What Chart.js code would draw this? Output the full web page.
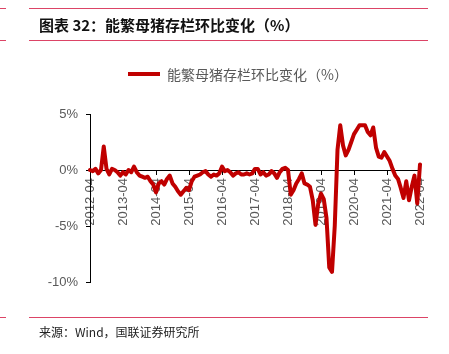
<!DOCTYPE html>
<html>
<head>
<meta charset="utf-8">
<script src="https://cdn.jsdelivr.net/npm/chart.js@4/dist/chart.umd.min.js"></script>
<style>
  html, body { margin:0; padding:0; background:#fff; }
  #wrap { position:relative; width:449px; height:354px; overflow:hidden; background:#fff; }
  canvas { position:absolute; left:0; top:0; }
  .rule { position:absolute; height:1px; background:#DC4466; }
  #title { position:absolute; left:39px; top:14px; font-family:"Noto Sans CJK SC", sans-serif; font-weight:bold; font-size:15px; line-height:22px; color:#111; white-space:nowrap; }
  #source { position:absolute; left:39px; top:324px; font-family:"Noto Sans CJK SC", sans-serif; font-size:12px; line-height:16px; color:#222; white-space:nowrap; }
  #legLine { position:absolute; left:128px; top:72px; width:32px; height:4px; background:#C00000; }
  #legText { position:absolute; left:167px; top:64px; font-family:"Noto Sans CJK SC", sans-serif; font-size:14px; line-height:20px; color:#595959; white-space:nowrap; }
</style>
</head>
<body>
<div id="wrap">
  <canvas id="c" width="449" height="354"></canvas>
  <div class="rule" style="left:0;width:6px;top:8px"></div>
  <div class="rule" style="left:29px;width:399px;top:8px"></div>
  <div class="rule" style="left:0;width:6px;top:40px"></div>
  <div class="rule" style="left:29px;width:399px;top:40px"></div>
  <div id="title">图表 32：能繁母猪存栏环比变化（%）</div>
  <div id="legLine"></div>
  <div id="legText"></div>
  <div class="rule" style="left:0;width:6px;top:317px"></div>
  <div class="rule" style="left:29px;width:399px;top:317px"></div>
  <div id="source">来源：Wind，国联证券研究所</div>
</div>
<script>
// ---- data ----
const seriesName = '能繁母猪存栏环比变化（%）';
const tickLabels = ['2012-04','2013-04','2014-04','2015-04','2016-04','2017-04','2018-04','2019-04','2020-04','2021-04','2022-04'];
const startYear = 2012, startMonth = 4, monthCount = 121;
const categories = [];
for (let k = 0; k < monthCount; k++) {
  const m = startMonth - 1 + k;
  const y = startYear + Math.floor(m / 12);
  const mm = (m % 12) + 1;
  categories.push(y + '-' + (mm < 10 ? '0' + mm : '' + mm));
}
const sowChange = [
  0.0, -0.1, 0.1, -0.3, 0.0, 2.1, 0.1, -0.4, 0.1, 0.0, -0.2, -0.5,
  -0.2, -0.4, 0.0, -0.2, 0.3, -0.2, -0.5, -0.6, -0.7, -0.6, -1.0, -1.3,
  -2.0, -1.2, -1.0, -1.3, -0.8, -0.5, -1.2, -1.5, -1.9, -2.2, -1.9, -1.6,
  -1.8, -1.0, -0.6, -0.5, -0.4, -0.2, -0.1, -0.4, -0.6, -0.4, -0.5, -0.3,
  0.3, -0.1, 0.0, -0.2, -0.5, -0.3, -0.2, -0.4, -0.4, -0.3, -0.4, -0.3,
  0.1, 0.1, -0.4, -0.2, -0.5, -0.4, -0.1, -0.3, -0.7, -0.2, 0.1, 0.2,
  0.0, -2.2, -1.8, -1.2, -0.8, -0.3, -1.2, -1.3, -1.5, -2.7, -4.9, -3.0,
  -2.1, -2.6, -4.3, -8.7, -9.1, -5.0, 1.8, 4.0, 2.2, 1.3, 1.8, 2.5,
  3.2, 3.6, 4.0, 4.0, 4.0, 3.4, 3.1, 3.8, 2.0, 1.2, 1.1, 1.6,
  1.2, 0.8, 0.1, -0.5, -0.8, -1.6, -2.5, -1.0, -2.7, -1.5, -0.5, -3.0,
  0.5
];
const yMin = -10, yMax = 5, yStep = 5;

document.getElementById('legText').textContent = seriesName;

const tickFont = { family: 'Arial, "Liberation Sans", sans-serif', size: 13 };
const tickColor = '#595959';

new Chart(document.getElementById('c'), {
  type: 'line',
  data: {
    labels: categories,
    datasets: [{
      label: seriesName,
      data: sowChange,
      borderColor: '#C00000',
      backgroundColor: '#C00000',
      borderWidth: 4,
      pointRadius: 0,
      tension: 0,
      borderJoinStyle: 'round',
      borderCapStyle: 'round',
      fill: false
    }]
  },
  options: {
    responsive: false,
    animation: false,
    devicePixelRatio: 1,
    layout: { padding: { top: 114, bottom: 72, left: 0, right: 29 } },
    plugins: { legend: { display: false }, tooltip: { enabled: false } },
    scales: {
      x: {
        type: 'category',
        position: { y: 0 },
        offset: false,
        grid: { drawOnChartArea: false, drawTicks: true, tickLength: 4, color: '#000' },
        border: { color: '#000', width: 1 },
        ticks: {
          autoSkip: false, maxRotation: 90, minRotation: 90, padding: 4,
          color: tickColor, font: tickFont,
          callback: function (v, i) { return tickLabels.includes(categories[i]) ? categories[i] : null; }
        },
        afterFit: function (s) { s.height = 0; }
      },
      y: {
        min: yMin, max: yMax,
        grid: { drawOnChartArea: false, drawTicks: true, tickLength: 4, color: '#000' },
        border: { color: '#000', width: 1 },
        ticks: { stepSize: yStep, padding: 8, color: tickColor, font: tickFont, callback: function (v) { return v + '%'; } },
        afterFit: function (s) { s.width = 90; }
      }
    }
  }
});
</script>
</body>
</html>
